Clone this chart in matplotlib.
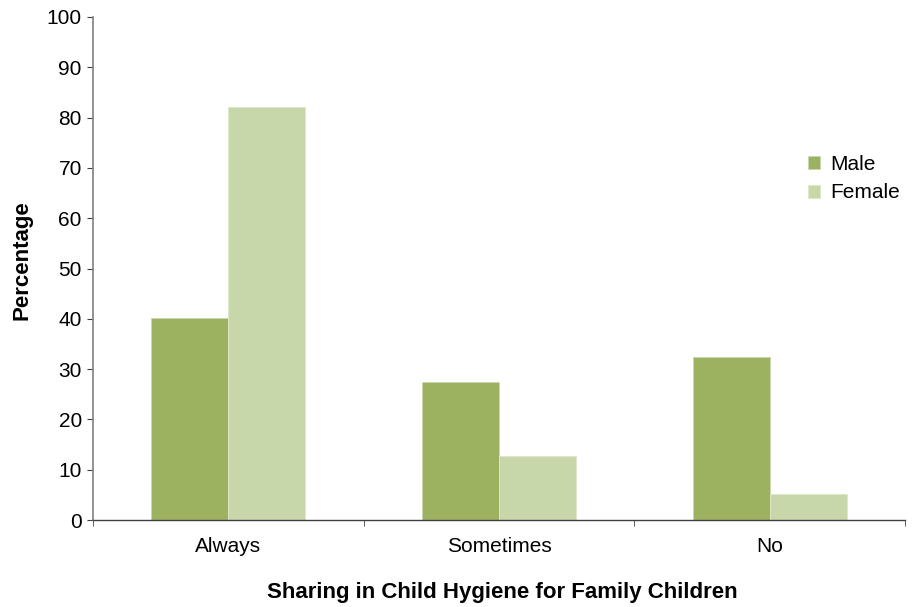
import matplotlib
matplotlib.use('Agg')
import matplotlib.pyplot as plt
import numpy as np

plt.rcParams['font.family'] = ['Liberation Sans', 'DejaVu Sans']

categories = ['Always', 'Sometimes', 'No']
male = [40.2, 27.4, 32.4]
female = [82.1, 12.7, 5.2]

fig = plt.figure(figsize=(9.14, 6.07), dpi=100)
ax = fig.add_axes([0.1017, 0.1433, 0.8885, 0.8287])

x = np.arange(len(categories))
w = 0.285
ax.bar(x - w / 2, male, w, color='#9db261', edgecolor='#c9d9ac', linewidth=0.6, label='Male')
ax.bar(x + w / 2, female, w, color='#c7d7a9', edgecolor='#dde8c9', linewidth=0.6, label='Female')

ax.set_xlim(-0.5, len(categories) - 0.5)
ax.set_ylim(0, 100)
ax.set_yticks(range(0, 101, 10))
ax.set_xticks(x)
ax.set_xticklabels(categories)
# tick marks between the groups
ax.set_xticks(np.arange(-0.5, len(categories)), minor=True)

for s in ['top', 'right']:
    ax.spines[s].set_visible(False)
ax.spines['left'].set_color('#808080')
ax.spines['left'].set_linewidth(1.2)
ax.spines['bottom'].set_color('#404040')
ax.spines['bottom'].set_linewidth(1.0)

ax.tick_params(axis='y', labelsize=15, length=4, color='#404040', pad=4)
ax.tick_params(axis='x', which='major', length=0, labelsize=15, pad=12.5)
ax.tick_params(axis='x', which='minor', length=4, color='#404040')

ax.set_ylabel('Percentage', fontsize=16, fontweight='bold')
ax.set_xlabel('Sharing in Child Hygiene for Family Children', fontsize=16, fontweight='bold')
ax.yaxis.set_label_coords(-0.075, 0.517)
ax.xaxis.set_label_coords(0.504, -0.123)

ax.legend(loc='upper left', bbox_to_anchor=(0.870, 0.742), frameon=False, fontsize=15,
          handlelength=0.6, handleheight=0.6, handletextpad=0.5, labelspacing=0.45,
          borderaxespad=0)

fig.savefig('out.png', dpi=100)
